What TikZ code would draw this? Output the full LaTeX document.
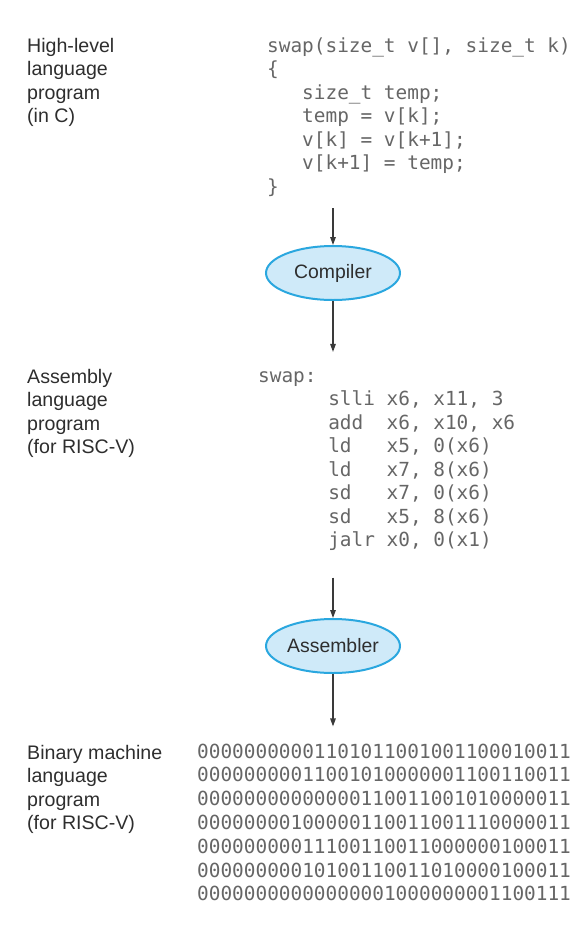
\documentclass[tikz,border=0pt]{standalone}
\usepackage{fontspec}
\setmainfont{Liberation Sans}
\newfontfamily\codefont{DejaVu Sans Mono}
\usetikzlibrary{arrows.meta,positioning,calc,shapes.geometric}
\definecolor{ink}{HTML}{2E2E2E}
\definecolor{listing}{HTML}{666666}
\definecolor{sky}{HTML}{2AA7DF}
\definecolor{skyfill}{HTML}{CFEAF9}
\definecolor{wire}{HTML}{3A3A3A}

\begin{document}
\begin{tikzpicture}[x=1pt,y=-1pt,>={Triangle[length=8pt,width=5.5pt]},every node/.style={inner sep=0pt,text=ink},label/.style={anchor=base west,align=left,font=\fontsize{19.6}{23.5}\selectfont},code/.style={anchor=base west,align=left,text=listing,font=\codefont\fontsize{19.4}{23.5}\selectfont},tool/.style={ellipse,draw=sky,line width=2pt,fill=skyfill,minimum width=134pt,minimum height=54pt,font=\fontsize{19.4}{23}\selectfont},flow/.style={->,wire,line width=1.3pt}]
\path[use as bounding box] (0,0) rectangle (580,929);


\node[label] (hllabel) at (27,122.5) {High-level\\language\\program\\(in C)};
\node[label] (asmlabel) at (27,453.5) {Assembly\\language\\program\\(for RISC-V)};
\node[label] (binlabel) at (27,829.5) {Binary machine\\language\\program\\(for RISC-V)};

\node[code] (ccode) at (267,193) {swap(size\_t v[], size\_t k)\\\{\\~~~size\_t temp;\\~~~temp = v[k];\\~~~v[k] = v[k+1];\\~~~v[k+1] = temp;\\\}};
\node[code] (asm) at (258,546.5) {swap:\\~~~~~~slli x6, x11, 3\\~~~~~~add~~x6, x10, x6\\~~~~~~ld~~~x5, 0(x6)\\~~~~~~ld~~~x7, 8(x6)\\~~~~~~sd~~~x7, 0(x6)\\~~~~~~sd~~~x5, 8(x6)\\~~~~~~jalr x0, 0(x1)};
\node[code,font=\codefont\fontsize{19.4}{23.8}\selectfont] (binary) at (197,900.8) {00000000001101011001001100010011\\00000000011001010000001100110011\\00000000000000110011001010000011\\00000000100000110011001110000011\\00000000011100110011000000100011\\00000000010100110011010000100011\\00000000000000001000000001100111};

\node[tool] (compiler) at (333,273) {Compiler};
\node[tool] (assembler) at (333,646) {Assembler};

\draw[flow,shorten <=12pt] (ccode.south -| compiler.north) -- (compiler.north);
\draw[flow,shorten >=19pt] (compiler.south) -- (compiler.south |- asm.north);
\draw[flow,shorten <=27pt] (asm.south -| assembler.north) -- (assembler.north);
\draw[flow,shorten >=17pt] (assembler.south) -- (assembler.south |- binary.north);

\end{tikzpicture}
\end{document}
